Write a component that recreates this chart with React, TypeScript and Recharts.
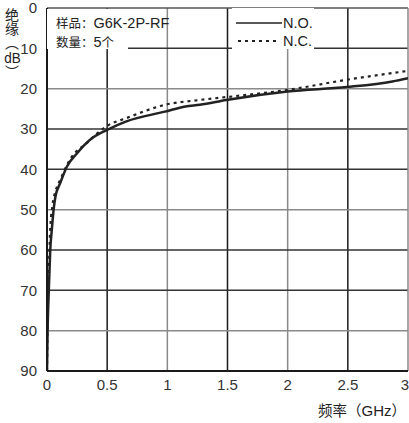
import React from 'react';
import { LineChart, Line, XAxis, YAxis, ReferenceLine, Legend } from 'recharts';

const freqNO = [0, 0.005, 0.015, 0.027, 0.04, 0.055, 0.07, 0.11, 0.166, 0.25, 0.373, 0.5, 0.66, 0.98, 1.15, 1.27, 1.49, 2.0, 2.49, 2.87, 3.0];
const isoNO = [90, 80, 70, 60, 55, 50, 46.8, 43.4, 39.3, 36, 32.3, 30.2, 28.1, 25.7, 24.4, 24, 22.8, 20.7, 19.6, 18.2, 17.4];

const freqNC = [0, 0.005, 0.015, 0.025, 0.045, 0.07, 0.11, 0.19, 0.33, 0.5, 0.66, 0.98, 1.27, 1.55, 2.0, 2.49, 3.0];
const isoNC = [90, 78, 66, 56, 49, 45.5, 42.6, 37.6, 33.5, 29.2, 27.3, 24.0, 22.8, 21.9, 20.3, 17.8, 15.6];

const xTicks = [0, 0.5, 1, 1.5, 2, 2.5, 3];
const yTicks = [0, 10, 20, 30, 40, 50, 60, 70, 80, 90];

const dataNO = freqNO.map((f, i) => ({ f, no: isoNO[i] }));
const dataNC = freqNC.map((f, i) => ({ f, nc: isoNC[i] }));

const FONT = '"Liberation Sans", Arial, sans-serif';
const CJK = '"Noto Sans CJK SC", sans-serif';
const DARK = '#1a1a1a';
const GRAY = '#8a8a8a';

// alternating scan look: some grid lines darker than others
const vStroke = (v: number) => (Math.round(v * 2) % 2 === 1 ? DARK : GRAY);
const hStroke = (v: number) => (v === 20 || v === 50 || v === 80 ? GRAY : '#333');

// last x label sits flush against the right edge so it isn't clipped
const XTick = (props: any) => {
  const { x, y, payload } = props;
  const last = payload.value === xTicks[xTicks.length - 1];
  return (
    <text x={last ? x + 1 : x} y={y + 11} textAnchor={last ? 'end' : 'middle'} fill="#333" fontSize={15} fontFamily={FONT}>
      {payload.value}
    </text>
  );
};

const LegendBox = () => (
  <div style={{ background: '#fff', width: 82, height: 41, position: 'relative' }}>
    <svg width={82} height={41} style={{ position: 'absolute', left: 0, top: 0 }}>
      <line x1={4} x2={50} y1={15} y2={15} stroke="#222" strokeWidth={1.5} />
      <line x1={6} x2={44} y1={33} y2={33} stroke="#222" strokeWidth={2} strokeDasharray="3 4" />
      <text x={51} y={20} fontSize={14.5} fill="#222" fontFamily={FONT}>N.O.</text>
      <text x={51} y={38} fontSize={14.5} fill="#222" fontFamily={FONT}>N.C.</text>
    </svg>
  </div>
);

const txt = (left: number, top: number, extra: React.CSSProperties = {}): React.CSSProperties => ({
  position: 'absolute',
  left,
  top,
  whiteSpace: 'nowrap',
  fontFamily: CJK,
  fontSize: 14,
  lineHeight: '17px',
  color: '#222',
  ...extra,
});

const latin: React.CSSProperties = { fontFamily: FONT, fontSize: 15 };

export default function App() {
  return (
    <div style={{ position: 'absolute', left: 0, top: 0, width: 409, height: 423, background: '#fff' }}>
      <LineChart width={409} height={423} margin={{ top: 8, right: 1, left: 0, bottom: 22 }}>
        <XAxis
          type="number"
          dataKey="f"
          domain={[0, 3]}
          ticks={xTicks}
          interval={0}
          allowDataOverflow
          height={30}
          tickLine={false}
          axisLine={{ stroke: DARK, strokeWidth: 2 }}
          tick={<XTick />}
        />
        <YAxis
          type="number"
          reversed
          domain={[0, 90]}
          ticks={yTicks}
          interval={0}
          width={47}
          tickLine={false}
          axisLine={{ stroke: DARK, strokeWidth: 2 }}
          tick={{ fill: '#333', fontSize: 15, fontFamily: FONT }}
          tickMargin={4}
        />
        {xTicks.filter((v) => v > 0 && v < 3).map((v) => (
          <ReferenceLine key={'x' + v} x={v} stroke={vStroke(v)} strokeWidth={1.5} />
        ))}
        {yTicks.filter((v) => v > 0 && v < 90).map((v) => (
          <ReferenceLine key={'y' + v} y={v} stroke={hStroke(v)} strokeWidth={1.5} />
        ))}
        <ReferenceLine y={0} stroke="#555" strokeWidth={1.5} />
        <ReferenceLine x={3} stroke={GRAY} strokeWidth={1.5} />
        <Line data={dataNC} dataKey="nc" type="monotone" stroke="#222" strokeWidth={2.2} strokeDasharray="3 4" dot={false} isAnimationActive={false} />
        <Line data={dataNO} dataKey="no" type="monotone" stroke="#222" strokeWidth={2.5} dot={false} isAnimationActive={false} />
        <Legend
          layout="vertical"
          align="center"
          verticalAlign="middle"
          content={() => <LegendBox />}
          wrapperStyle={{ top: 8, left: 232, width: 82, height: 41 }}
        />
      </LineChart>

      {/* sample annotation box */}
      <div style={{ position: 'absolute', left: 47, top: 9, width: 81, height: 40, background: '#fff' }} />
      <div style={txt(56, 14, { fontSize: 12.5, lineHeight: '18.5px' })}>
        样品：<span style={{ fontFamily: FONT, fontSize: 14.5 }}>G6K-2P-RF</span>
        <br />
        数量：<span style={{ fontFamily: FONT, fontSize: 14.5 }}>5</span>个
      </div>

      {/* y axis title, written vertically */}
      <div style={txt(4, 8, { writingMode: 'vertical-rl', fontSize: 14, lineHeight: '16px' })}>
        绝缘（<span style={{ textCombineUpright: 'all', fontFamily: FONT, fontSize: 15 } as React.CSSProperties}>dB</span>）
      </div>

      {/* x axis title */}
      <div style={txt(318, 401, { fontSize: 14.5 })}>
        频率（<span style={latin}>GHz</span>）
      </div>
    </div>
  );
}
